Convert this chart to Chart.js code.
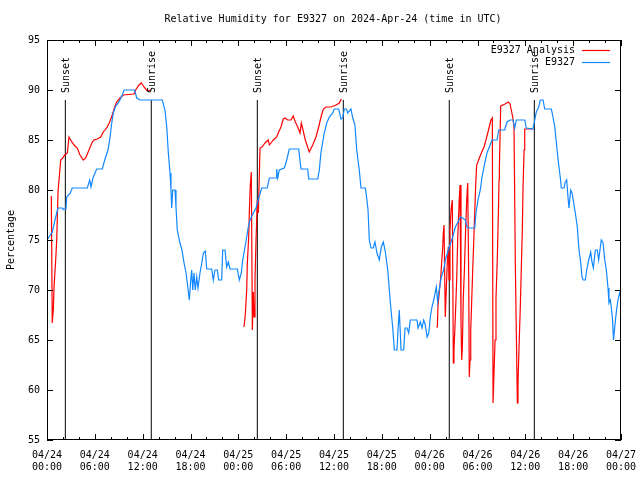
<!DOCTYPE html>
<html>
<head>
<meta charset="utf-8">
<script src="https://cdn.jsdelivr.net/npm/chart.js@4/dist/chart.umd.min.js"></script>
<style>
  html, body { margin: 0; padding: 0; background: #fff; }
  canvas { display: block; }
</style>
</head>
<body>
<canvas id="rhChart" width="640" height="480"></canvas>
<script>
// hours since 2024-04-24 00:00 UTC
const obsHours = [0, 0.66, 1.09, 1.38, 1.92, 2.0, 2.38, 2.47, 2.92, 3.17, 5.06, 5.36, 5.52, 5.77, 6.23, 6.94, 7.24, 7.65, 7.86, 8.12, 8.32, 8.62, 9.03, 9.45, 9.66, 11.0, 11.25, 11.67, 14.46,
  14.8, 15.02, 15.22, 15.43, 15.55, 15.64, 15.77, 16.06, 16.18, 16.34, 16.68, 16.93, 17.19, 17.44, 17.6, 17.85, 18.03, 18.15, 18.28, 18.44, 18.6, 18.78, 18.94, 19.19, 19.44, 19.61, 19.86, 20.03, 20.66, 20.86, 21.07, 21.36, 21.54, 21.91, 22.04, 22.33, 22.54, 22.74, 22.96, 23.87, 24.12, 24.37, 24.55, 24.84, 25.05, 25.25, 25.46, 25.88, 26.22, 26.56, 26.93, 27.63, 27.89, 28.73, 28.81,
  28.94, 29.14, 29.77, 30.07, 30.39, 31.57, 31.86, 32.7, 32.83, 33.96, 34.16, 34.37, 34.78, 35.09, 35.41, 35.84, 36.04, 36.59, 36.88, 37.09, 37.29, 37.54, 37.72, 37.92, 38.13, 38.35, 38.63, 38.85, 39.17, 39.39, 39.93, 40.1, 40.27, 40.43, 40.64, 40.93, 41.14, 41.39, 41.68, 41.93, 42.19, 42.44, 42.74, 42.94, 43.15, 43.36, 43.57,
  43.9, 44.03, 44.19, 44.41, 44.74, 44.91, 45.16, 45.37, 45.57, 46.41, 46.54, 46.83, 47.04, 47.25, 47.45, 47.68, 47.89, 48.08, 48.29, 48.51, 48.83, 49.01, 49.14, 49.46, 49.76, 49.96, 50.46, 50.89, 51.22, 51.56, 51.84, 52.14, 52.47, 52.69, 52.97, 53.65, 53.81, 54.06, 54.35, 54.57, 54.91, 55.19, 55.48, 55.82, 56.45, 56.66, 57.41, 57.7, 58.08,
  58.46, 58.67, 58.87, 59.92, 60.12, 60.96, 61.18, 61.38, 61.68, 61.88, 62.22, 62.43, 63.26, 63.47, 63.69, 64.01, 64.19, 64.39, 64.51, 64.85, 65.01, 65.19, 65.35, 65.48, 65.69, 65.86, 66.07, 66.27, 66.52, 66.73, 66.95, 67.11, 67.27, 67.52, 67.7, 67.95, 68.2, 68.36, 68.53, 68.78, 69.03, 69.2, 69.41, 69.53, 69.75, 69.96, 70.16, 70.37, 70.49, 70.66, 70.82, 70.94, 71.06, 71.24, 71.44, 71.62, 71.84, 72];
const obsRh = [75, 75.8, 77.3, 78.2, 78.2, 78.1, 78.1, 79.3, 79.7, 80.2, 80.2, 81, 80.3, 81.2, 82.1, 82.1, 83, 84, 85, 86.7, 87.7, 88.4, 88.8, 89.5, 90, 90, 89.2, 89, 89,
  88, 86.3, 83.7, 81.7, 80, 78.2, 80, 80, 78.3, 76, 74.7, 74, 72.7, 71.7, 70.7, 69, 71, 72, 70, 71.7, 70, 71.3, 70.2, 71.7, 72.8, 73.7, 73.9, 72.1, 72.1, 71, 72, 72, 71, 71, 74, 74, 72.3, 72.8, 72.1, 72.1, 71, 71.7, 73, 74.3, 75.3, 76.3, 77, 77.7, 78.2, 79.2, 80.2, 80.2, 81.2, 81.2, 82.1,
  81.2, 82, 82.2, 83, 84.1, 84.1, 82.1, 82.1, 81.1, 81.1, 82, 83.8, 85.7, 86.7, 87.3, 87.7, 88.1, 88.1, 87.1, 87.2, 88.1, 88.1, 87.7, 87.9, 88.1, 87.2, 86.5, 84, 82, 80.2, 80.2, 79.2, 78, 75, 74.2, 74.2, 74.8, 73.7, 73, 74.3, 74.8, 73.8, 72, 70, 68, 66.3, 64,
  64, 66, 68, 64, 64, 66.2, 66.2, 65.7, 67, 67, 66.2, 66.8, 66.2, 67, 66.5, 65.3, 65.7, 67.3, 68.3, 69, 70.3, 68.8, 69.7, 71.3, 72, 73, 74.3, 75.3, 76.3, 76.8, 77.3, 77.2, 77, 76.3, 76.2, 76.2, 77.7, 79, 80, 81.3, 82.7, 83.7, 84.3, 85, 85, 86, 86, 86.8, 87,
  87, 86.2, 87, 87, 86.2, 86.1, 87, 87.8, 88.3, 89, 89, 88.1, 88.1, 87.3, 86.3, 83.8, 82.5, 81.2, 80.2, 80.2, 80.8, 81, 79.3, 78.2, 80, 79.7, 78.7, 77.7, 76.3, 74, 72.7, 71.3, 71, 71, 72, 73, 73.8, 72.8, 72.2, 74, 74, 73, 74.3, 75, 74.7, 73, 72, 70.2, 68.7, 69, 68, 67, 65, 66.5, 68, 69, 69.7, 69.3];

// analysis series, null = no data
const anaHours = [0.54, 0.66, 0.79, 0.88, 1.09, 1.22, 1.38, 1.51, 1.72, 1.97, 2.22, 2.55, 2.76, 2.97, 3.39, 3.8, 4.14, 4.55, 4.85, 5.27, 5.68, 5.9, 6.31, 6.74, 7.06, 7.56, 7.86, 8.19, 8.49, 8.74, 9.16, 9.57, 10.91, 11.12, 11.54, 11.83, 12.17, 12.58, 13.01,
  18,
  24.71, 24.87, 25.05, 25.13, 25.3, 25.38, 25.5, 25.63, 25.76, 25.88, 25.97, 26.09, 26.22, 26.38, 26.51, 26.72, 26.97, 27.35, 27.76, 27.89, 28.39, 28.81, 29.06, 29.35, 29.64, 29.85, 30.19, 30.61, 30.89, 31.15, 31.45, 31.74, 31.9, 32.08, 32.4, 32.9, 33.33, 33.74, 34.08, 34.37, 34.66, 35.0, 35.62, 36.25, 36.67, 36.92,
  42,
  48.83, 48.96, 49.05, 49.21, 49.39, 49.51, 49.64, 49.71, 49.8, 49.96, 50.05, 50.21, 50.34, 50.43, 50.55, 50.68, 50.84, 50.97, 51.05, 51.18, 51.39, 51.52, 51.72, 51.81, 51.93, 52.02, 52.1, 52.22, 52.35, 52.52, 52.65, 52.77, 52.9, 52.97, 53.06, 53.15, 53.27, 53.4, 53.52, 53.65, 53.78, 53.9, 54.23, 54.53, 54.82, 55.16, 55.44, 55.69, 55.86, 55.95, 56.2, 56.32, 56.49, 56.62, 56.7, 56.74, 56.91, 57.45, 57.87, 58.08, 58.42, 58.58, 58.75, 59.0, 59.08, 59.21, 59.37, 59.5, 59.63, 59.71, 59.84, 59.92, 60.96];
const anaRh = [79.4, 66.7, 68, 70.3, 73, 75, 79.8, 81, 83, 83.2, 83.5, 83.7, 85.3, 85, 84.5, 84.2, 83.5, 83, 83.2, 84, 84.8, 85, 85.1, 85.3, 85.8, 86.3, 86.8, 87.5, 88.3, 88.8, 89.2, 89.5, 89.6, 90, 90.5, 90.7, 90.3, 89.9, 90,
  null,
  66.3, 67.5, 70, 72.7, 75.3, 77.8, 80.5, 81.8, 66, 69.8, 67.3, 71, 75, 79, 77.7, 84.2, 84.3, 84.7, 85, 84.5, 85, 85.3, 85.8, 86.3, 87.1, 87.2, 87, 87, 87.4, 86.8, 86.3, 85.7, 86.7, 86.1, 85, 83.8, 84.5, 85.3, 86.3, 87.3, 88.1, 88.3, 88.3, 88.5, 88.7, 89.1,
  null,
  66.3, 66.3, 68.5, 69.8, 71.3, 72.8, 74.3, 75.7, 76.5, 67.3, 69.3, 72.7, 74.3, 71, 76, 78, 79, 62.7, 64, 66.5, 71, 75.2, 79.2, 80.5, 66.7, 63, 64.3, 69.3, 71.8, 76.3, 79, 80.7, 71, 61.3, 63, 66, 68.8, 72, 74.7, 77.7, 80.7, 82.5, 83.2, 83.8, 84.3, 85.3, 86.2, 87, 87.2, 58.7, 65, 69.2, 73.3, 77.7, 81, 82, 88.4, 88.6, 88.8, 88.6, 87.3, 86.3, 72.3, 58.7, 60.7, 64.3, 68.3, 72.3, 76.3, 80.2, 84, 86.1, 86.1];

const sunHours = [2.3, 13.08, 26.38, 37.17, 50.46, 61.13];
const sunNames = ["Sunset", "Sunrise", "Sunset", "Sunrise", "Sunset", "Sunrise"];
const sunTop = 89;

const dayLabels = ["04/24", "04/24", "04/24", "04/24", "04/25", "04/25", "04/25", "04/25", "04/26", "04/26", "04/26", "04/26", "04/27"];
const timeLabels = ["00:00", "06:00", "12:00", "18:00", "00:00", "06:00", "12:00", "18:00", "00:00", "06:00", "12:00", "18:00", "00:00"];
const yTickValues = [55, 60, 65, 70, 75, 80, 85, 90, 95];

const MONO = "'DejaVu Sans Mono', 'Liberation Mono', monospace";
const RED = "#ff0000";
const BLUE = "#1188ff";

const toPoints = (xs, ys) => xs.map((x, i) => ({ x: x, y: ys[i] }));

const sunSets = sunHours.map((h) => ({
  data: [{ x: h, y: 55 }, { x: h, y: sunTop }],
  borderColor: "#000",
  borderWidth: 1,
  pointRadius: 0,
  showLine: true,
  order: 3,
}));

// box, inward ticks, sun labels, title and legend in gnuplot style
const frame = {
  id: "frame",
  afterDatasetsDraw(chart) {
    const { ctx, chartArea: a, scales } = chart;
    const xs = scales.x, ys = scales.y;
    ctx.save();
    ctx.strokeStyle = "#000";
    ctx.lineWidth = 1;
    ctx.strokeRect(a.left + 0.5, a.top + 0.5, a.right - a.left - 1, a.bottom - a.top - 1);
    ctx.beginPath();
    for (let h = 0; h <= 72; h += 2) {
      const px = Math.round(xs.getPixelForValue(h)) + 0.5;
      const len = h % 6 === 0 ? 6 : 3;
      ctx.moveTo(px, a.bottom); ctx.lineTo(px, a.bottom - len);
      ctx.moveTo(px, a.top); ctx.lineTo(px, a.top + len);
    }
    yTickValues.forEach((v) => {
      const py = Math.round(ys.getPixelForValue(v)) + 0.5;
      ctx.moveTo(a.left, py); ctx.lineTo(a.left + 6, py);
      ctx.moveTo(a.right, py); ctx.lineTo(a.right - 6, py);
    });
    ctx.stroke();

    ctx.fillStyle = "#000";
    ctx.font = "10px " + MONO;
    ctx.textBaseline = "middle";
    sunHours.forEach((h, i) => {
      const px = xs.getPixelForValue(h);
      const py = ys.getPixelForValue(sunTop);
      ctx.save();
      ctx.translate(px + 1, py - 7);
      ctx.rotate(-Math.PI / 2);
      ctx.textAlign = "left";
      ctx.fillText(sunNames[i], 0, 0);
      ctx.restore();
    });

    // legend
    ctx.textAlign = "right";
    const items = [["E9327 Analysis", RED, 50], ["E9327", BLUE, 62]];
    items.forEach(([label, color, y]) => {
      ctx.fillStyle = "#000";
      ctx.fillText(label, 575, y);
      ctx.strokeStyle = color;
      ctx.lineWidth = 1.2;
      ctx.beginPath();
      ctx.moveTo(582, y + 0.5);
      ctx.lineTo(610, y + 0.5);
      ctx.stroke();
    });

    ctx.fillStyle = "#000";
    ctx.textAlign = "center";
    ctx.fillText("Relative Humidity for E9327 on 2024-Apr-24 (time in UTC)", 333, 19);
    ctx.save();
    ctx.translate(11, 240);
    ctx.rotate(-Math.PI / 2);
    ctx.fillText("Percentage", 0, 0);
    ctx.restore();
    ctx.restore();
  },
};

new Chart(document.getElementById("rhChart"), {
  type: "scatter",
  data: {
    datasets: [
      {
        label: "E9327 Analysis",
        data: toPoints(anaHours, anaRh),
        borderColor: RED,
        borderWidth: 1.2,
        pointRadius: 0,
        showLine: true,
        spanGaps: false,
        order: 2,
      },
      {
        label: "E9327",
        data: toPoints(obsHours, obsRh),
        borderColor: BLUE,
        borderWidth: 1.2,
        pointRadius: 0,
        showLine: true,
        order: 1,
      },
      ...sunSets,
    ],
  },
  plugins: [frame],
  options: {
    responsive: false,
    animation: false,
    layout: { autoPadding: false, padding: { left: 0, right: 19, top: 40, bottom: 0 } },
    plugins: { legend: { display: false }, tooltip: { enabled: false } },
    elements: { line: { tension: 0 } },
    scales: {
      x: {
        type: "linear",
        min: 0,
        max: 72,
        afterBuildTicks: (s) => { s.ticks = dayLabels.map((d, i) => ({ value: i * 6 })); },
        afterFit: (s) => { s.height = 40; s.paddingLeft = 0; s.paddingRight = 0; },
        grid: { display: false, drawTicks: false },
        border: { display: false },
        ticks: {
          autoSkip: false,
          maxRotation: 0,
          padding: 9,
          color: "#000",
          font: { family: MONO, size: 10, lineHeight: 1.2 },
          callback: (v) => [dayLabels[v / 6], timeLabels[v / 6]],
        },
      },
      y: {
        min: 55,
        max: 95,
        afterBuildTicks: (s) => { s.ticks = yTickValues.map((v) => ({ value: v })); },
        afterFit: (s) => { s.width = 47; s.paddingTop = 0; s.paddingBottom = 0; },
        grid: { display: false, drawTicks: false },
        border: { display: false },
        ticks: {
          padding: 7,
          color: "#000",
          font: { family: MONO, size: 10 },
        },
      },
    },
  },
});
</script>
</body>
</html>
